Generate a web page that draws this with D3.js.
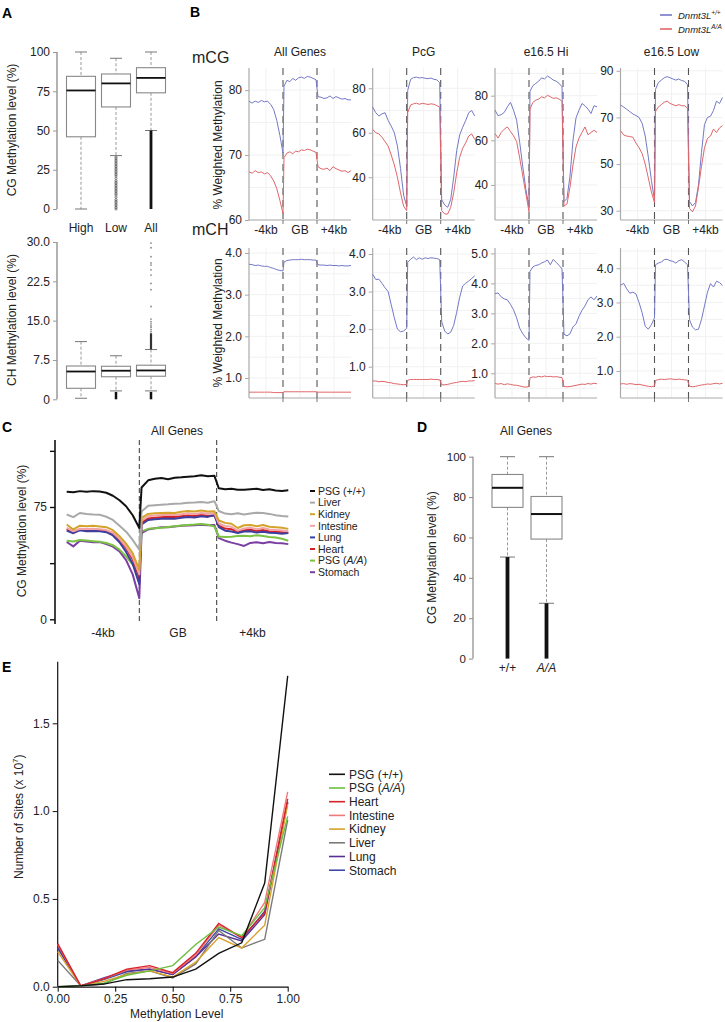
<!DOCTYPE html>
<html><head><meta charset="utf-8">
<script src="https://cdn.jsdelivr.net/npm/d3@7"></script>
<style>body{margin:0;background:#fff}svg{display:block}</style>
</head><body><svg id="fig" width="725" height="1022"></svg>
<script>
// ================= DATA =================
// Panel A
const catsA = ["High", "Low", "All"];
const cgBoxA = [
  {lo: 0, q1: 46, med: 75.5, q3: 84.5, hi: 100},
  {lo: 34, q1: 65, med: 80, q3: 86, hi: 96},
  {lo: 50, q1: 74, med: 83.5, q3: 90, hi: 100}
];
const cgDotsLowA = [0,1,2,3,4,5,6,7.5,9,10,11,12,13,14,15,16,17,18,19.5,21,22,23,24,25,26,27,28,29,30,31,32,33];
const cgBandAllA = [0, 50];
const chBoxA = [
  {lo: 0.2, q1: 2.1, med: 5.3, q3: 6.35, hi: 11},
  {lo: 1.6, q1: 4.3, med: 5.45, q3: 6.3, hi: 8.3},
  {lo: 1.6, q1: 4.4, med: 5.5, q3: 6.5, hi: 9.5}
];
const chBandsLowA = [null, [0, 1.4], [0, 1.4]];
const chBandHighAllA = [9.5, 12.6];
const chDotsAllA = [12.9,13.3,13.7,14.0,14.4,14.8,15.3,17.7,20.9,22.1,23.7,24.7,25.6,26.0,27.2,28.9,29.8];
const ticksA1 = [0, 25, 50, 75, 100];
const ticksA2 = [0, 7.5, 15, 22.5, 30];

// Panel B
const segLabels = ["-4kb", "GB", "+4kb"];
const bTitles = ["All Genes", "PcG", "e16.5 Hi", "e16.5 Low"];
const mCG_All_wt = [78.3,78.0,78.3,78.1,78.4,78.2,78.3,77.8,77.0,75.3,73.0,70.3, 80.6,81.5,81.3,81.8,81.5,81.9,82.0,81.8,82.1,82.0,81.8,81.6, 79.0,78.9,78.7,78.8,79.1,78.7,79.0,78.8,78.6,78.7,78.5,78.5];
const mCG_All_aa = [67.4,67.2,67.6,67.3,67.4,67.1,67.3,66.8,66.0,64.8,63.0,61.0, 69.6,70.3,70.5,70.2,70.6,70.5,70.8,70.7,70.9,70.8,70.6,70.4, 68.2,67.9,67.8,68.0,67.6,68.2,67.9,67.7,67.5,67.6,67.3,67.6];
const mCG_PcG_wt = [71.5,69.0,67.5,68.5,69.0,65.5,63.0,60.0,54.0,44.0,32.0,27.0, 79.0,84.0,84.8,85.0,84.6,84.8,84.5,84.3,84.6,84.0,83.8,82.5, 30.0,27.5,26.5,30.0,40.0,52.0,59.0,62.5,65.5,69.0,70.0,67.5];
const mCG_PcG_aa = [61.5,60.0,59.5,58.0,56.0,54.0,50.0,45.5,40.0,33.0,27.0,25.0, 69.0,72.5,73.0,73.3,72.8,73.2,73.0,72.7,73.0,72.8,72.2,71.5, 25.0,23.5,23.5,26.5,33.0,42.0,49.0,53.0,55.5,58.5,59.5,57.0];
const mCG_Hi_wt = [73.5,71.0,71.5,72.5,75.0,77.0,73.5,69.0,59.0,48.0,38.0,30.0, 82.0,84.5,85.5,86.5,88.0,87.5,88.8,88.0,87.0,86.5,85.5,84.0, 32.5,34.0,44.0,60.0,70.0,73.5,76.5,75.5,74.0,72.0,75.5,75.0];
const mCG_Hi_aa = [63.0,61.0,63.5,65.0,66.0,64.0,62.0,59.5,52.0,44.0,36.0,28.0, 74.0,77.0,78.0,78.5,79.5,79.0,80.2,79.5,78.8,79.0,78.5,77.5, 30.5,31.5,39.0,49.0,57.0,61.0,63.5,66.0,62.5,63.5,64.5,63.5];
const mCG_Low_wt = [75.3,74.5,73.5,72.5,71.5,70.8,70.0,67.5,62.0,53.0,43.0,34.5, 82.0,85.0,86.0,87.0,87.5,87.0,86.5,86.0,86.5,85.8,85.5,84.0, 34.0,32.0,33.5,41.0,55.0,67.0,70.0,70.5,73.0,77.0,76.0,78.5];
const mCG_Low_aa = [64.3,62.5,62.0,61.8,61.5,59.0,57.0,54.5,50.0,44.0,38.0,33.5, 72.5,74.5,75.5,76.5,77.0,76.0,75.5,75.0,75.5,75.0,75.0,74.0, 31.0,29.5,32.0,40.0,49.0,57.0,61.0,62.0,65.0,63.5,65.5,66.5];
const mCH_All_wt = [3.73,3.72,3.70,3.71,3.69,3.68,3.68,3.65,3.63,3.60,3.58,3.57, 3.78,3.82,3.83,3.84,3.84,3.84,3.85,3.84,3.84,3.84,3.83,3.83, 3.72,3.71,3.71,3.70,3.71,3.70,3.70,3.69,3.70,3.69,3.69,3.70];
const mCH_All_aa = [0.66,0.66,0.66,0.66,0.66,0.66,0.66,0.66,0.65,0.65,0.65,0.65, 0.67,0.67,0.67,0.67,0.67,0.67,0.67,0.67,0.67,0.67,0.67,0.67, 0.66,0.66,0.66,0.66,0.66,0.66,0.66,0.66,0.66,0.66,0.66,0.66];
const mCH_PcG_wt = [3.46,3.32,3.33,3.22,3.10,3.00,2.65,2.30,2.00,1.93,1.95,2.02, 3.78,3.86,3.92,3.85,3.90,3.86,3.90,3.88,3.90,3.89,3.88,3.85, 2.20,1.95,1.87,1.92,2.10,2.45,2.85,3.15,3.22,3.28,3.35,3.42];
const mCH_PcG_aa = [0.62,0.62,0.60,0.61,0.60,0.58,0.57,0.55,0.54,0.53,0.52,0.53, 0.64,0.66,0.66,0.66,0.66,0.66,0.66,0.66,0.67,0.66,0.66,0.65, 0.52,0.52,0.53,0.55,0.57,0.58,0.60,0.61,0.60,0.62,0.62,0.63];
const mCH_Hi_wt = [3.66,3.68,3.55,3.48,3.45,3.30,3.12,2.85,2.50,2.32,2.18,2.10, 4.40,4.55,4.60,4.62,4.68,4.72,4.78,4.62,4.80,4.70,4.60,4.48, 2.30,2.25,2.32,2.55,2.65,2.90,3.10,3.25,3.45,3.55,3.45,3.58];
const mCH_Hi_aa = [0.66,0.64,0.66,0.62,0.65,0.63,0.61,0.60,0.58,0.55,0.54,0.56, 0.85,0.88,0.87,0.90,0.88,0.91,0.89,0.90,0.88,0.89,0.87,0.86, 0.56,0.55,0.56,0.58,0.60,0.62,0.64,0.63,0.66,0.64,0.67,0.65];
const mCH_Low_wt = [3.50,3.56,3.40,3.27,3.30,3.25,3.00,2.70,2.30,2.22,2.35,2.55, 4.10,4.15,4.18,4.25,4.26,4.22,4.20,4.15,4.22,4.25,4.18,4.10, 2.50,2.28,2.20,2.22,2.50,2.90,3.30,3.55,3.45,3.62,3.58,3.50];
const mCH_Low_aa = [0.62,0.63,0.61,0.63,0.62,0.60,0.61,0.59,0.57,0.55,0.54,0.56, 0.72,0.75,0.76,0.75,0.76,0.77,0.76,0.75,0.76,0.75,0.74,0.73, 0.55,0.54,0.55,0.57,0.59,0.60,0.62,0.61,0.63,0.64,0.62,0.64];
const ticksCG = [[60,70,80],[40,60,80],[40,60,80],[30,50,70,90]];
const ticksCH = [[1,2,3,4],[1,2,3,4],[1,2,3,4,5],[1,2,3,4]];

// Panel C
const cNames = ["PSG (+/+)", "Liver", "Kidney", "Intestine", "Lung", "Heart", "PSG (A/A)", "Stomach"];
const cPSGwt = [85.2,84.8,85.6,85.2,85.6,85.3,84.5,82.5,79.5,75.5,69.5,61.0, 88.0,92.8,93.8,94.3,93.6,94.5,94.8,95.2,95.6,96.2,95.5,95.8, 87.5,86.8,87.2,86.5,86.6,86.9,87.2,86.4,86.8,86.0,85.7,86.2];
const cLiver = [70.0,68.2,71.0,70.3,70.0,69.8,68.5,66.4,62.5,58.5,53.0,46.5, 72.0,75.8,76.2,76.5,76.8,77.2,77.4,77.8,78.0,78.3,77.8,78.9, 72.3,70.6,70.2,70.8,70.0,70.6,71.2,71.0,70.4,69.5,69.0,68.6];
const cKidney = [63.3,60.0,62.5,62.2,62.4,62.0,61.5,59.5,55.5,50.5,44.0,33.0, 67.7,70.4,70.8,71.0,71.2,71.0,71.8,72.3,72.0,72.6,72.0,72.2, 66.0,64.4,63.8,61.0,62.8,63.0,62.2,63.0,61.8,61.5,61.2,60.4];
const cIntestine = [61.0,58.8,60.5,60.3,60.5,60.2,59.6,57.8,53.8,48.5,41.5,30.0, 66.0,68.8,69.3,69.6,69.8,69.6,70.2,70.8,70.4,71.0,70.6,70.8, 64.0,62.4,61.8,59.2,60.6,61.2,60.2,61.0,60.0,59.6,59.3,58.8];
const cLung = [59.2,57.5,59.5,58.8,59.0,58.8,58.2,56.0,51.5,45.0,37.0,23.5, 63.3,66.3,66.8,67.2,67.4,67.2,67.8,68.3,68.0,68.8,68.4,69.6, 61.5,59.2,58.6,57.6,58.6,58.8,57.9,58.4,57.8,57.6,57.2,57.6];
const cHeart = [60.2,57.8,59.8,59.5,59.7,59.4,58.8,57.0,53.0,47.5,40.0,27.5, 64.5,67.4,67.8,68.2,68.5,68.3,68.8,69.3,69.0,69.6,69.2,69.4, 62.5,60.6,60.2,58.5,59.4,59.8,59.0,59.6,58.7,58.5,58.2,57.8];
const cPSGaa = [52.5,52.0,53.0,52.6,52.2,51.8,51.0,49.5,46.5,42.0,36.5,30.0, 58.7,60.4,60.8,61.2,61.6,62.2,62.6,63.0,63.3,63.7,63.2,62.0, 55.3,55.0,55.2,55.6,55.8,55.4,56.2,55.6,55.0,54.6,53.8,52.5];
const cStomach = [51.6,48.7,52.5,52.0,51.5,51.6,50.2,48.5,45.4,39.5,30.0,14.1, 57.6,60.0,60.8,61.5,61.4,62.0,62.4,62.6,62.8,63.2,62.8,62.9, 54.2,52.5,51.2,50.2,49.0,51.0,51.5,50.8,51.6,51.0,50.8,50.2];
const cTicks = [0, 37.5, 75, 112.5];

// Panel D
const dCats = ["+/+", "A/A"];
const dBox = [
  {lo: 50.3, q1: 74.9, med: 84.6, q3: 91.2, hi: 100},
  {lo: 27.4, q1: 59.2, med: 71.6, q3: 80.3, hi: 100}
];
const dBands = [[0, 50.3], [0, 27.4]];
const dTicks = [0, 20, 40, 60, 80, 100];

// Panel E
const eLevels = [0, 0.1, 0.2, 0.3, 0.4, 0.5, 0.6, 0.7, 0.8, 0.9, 1.0];
const eNames = ["PSG (+/+)", "PSG (A/A)", "Heart", "Intestine", "Kidney", "Liver", "Lung", "Stomach"];
const ePSGwt    = [0.0, 0.005, 0.015, 0.04, 0.045, 0.055, 0.10, 0.19, 0.25, 0.59, 1.77];
const ePSGaa    = [0.0, 0.005, 0.02, 0.065, 0.09, 0.12, 0.24, 0.34, 0.29, 0.45, 0.97];
const eHeart    = [0.245, 0.005, 0.045, 0.10, 0.12, 0.08, 0.19, 0.36, 0.28, 0.42, 1.07];
const eIntestine= [0.24, 0.005, 0.045, 0.095, 0.11, 0.075, 0.18, 0.35, 0.28, 0.48, 1.11];
const eKidney   = [0.20, 0.005, 0.03, 0.07, 0.09, 0.055, 0.14, 0.28, 0.22, 0.35, 1.04];
const eLiver    = [0.15, 0.005, 0.015, 0.075, 0.09, 0.05, 0.13, 0.32, 0.22, 0.27, 0.95];
const eLung     = [0.23, 0.005, 0.05, 0.09, 0.10, 0.07, 0.17, 0.30, 0.26, 0.41, 1.05];
const eStomach  = [0.22, 0.005, 0.04, 0.085, 0.10, 0.07, 0.17, 0.33, 0.27, 0.43, 1.05];
const eYTicks = [0, 0.5, 1.0, 1.5];
const eXTicks = [0, 0.25, 0.5, 0.75, 1.0];

// ================= DRAWING =================
const FONT = '"Liberation Sans", Arial, Helvetica, sans-serif';
const svg = d3.select("#fig").attr("font-family", FONT);
const TXT = "#222";

function text(g, x, y, s, o = {}) {
  const t = g.append("text").attr("x", x).attr("y", y).text(s)
    .attr("font-size", o.size || 12).attr("fill", o.fill || TXT)
    .attr("text-anchor", o.anchor || "start");
  if (o.weight) t.attr("font-weight", o.weight);
  if (o.style) t.attr("font-style", o.style);
  if (o.dy) t.attr("dy", o.dy);
  return t;
}
function vtext(g, x, y, s, o = {}) {
  return g.append("text").attr("transform", `translate(${x},${y}) rotate(-90)`)
    .attr("text-anchor", "middle").attr("font-size", o.size || 12).attr("fill", TXT).text(s);
}
function yAxis(g, x, scale, ticks, fmt, o) {
  const ax = d3.axisLeft(scale).tickValues(ticks).tickSize(o.len || 4).tickSizeOuter(0)
    .tickPadding(o.pad || 3).tickFormat(fmt);
  const a = g.append("g").attr("transform", `translate(${x},0)`).call(ax);
  a.attr("font-family", FONT).attr("font-size", o.size || 12);
  a.select(".domain").remove();
  a.selectAll(".tick line").attr("stroke", o.color).attr("stroke-width", o.tw || 1);
  a.selectAll(".tick text").attr("fill", TXT);
  g.append("line").attr("x1", x).attr("x2", x).attr("y1", o.y0).attr("y2", o.y1)
    .attr("stroke", o.color).attr("stroke-width", o.sw || 1);
  return a;
}
// Panel letters
[["A", 2, 18], ["B", 190, 17], ["C", 2, 432], ["D", 417, 432], ["E", 2, 672]].forEach(([s, x, y]) =>
  text(svg, x, y, s, {size: 14, weight: "bold", fill: "#000"}));

// ---------- box plot helper ----------
function boxPlot(g, y, cx, w, s, o) {
  const cw = o.cap;
  g.append("line").attr("x1", cx).attr("x2", cx).attr("y1", y(s.hi)).attr("y2", y(s.q3))
    .attr("stroke", "#999").attr("stroke-dasharray", "3,2");
  g.append("line").attr("x1", cx).attr("x2", cx).attr("y1", y(s.q1)).attr("y2", y(s.lo))
    .attr("stroke", "#999").attr("stroke-dasharray", "3,2");
  [s.hi, s.lo].forEach(v => g.append("line").attr("x1", cx - cw / 2).attr("x2", cx + cw / 2)
    .attr("y1", y(v)).attr("y2", y(v)).attr("stroke", "#777"));
  g.append("rect").attr("x", cx - w / 2).attr("y", y(s.q3)).attr("width", w)
    .attr("height", y(s.q1) - y(s.q3)).attr("fill", "#fff").attr("stroke", "#888").attr("stroke-width", 1.1);
  g.append("line").attr("x1", cx - w / 2).attr("x2", cx + w / 2).attr("y1", y(s.med)).attr("y2", y(s.med))
    .attr("stroke", "#111").attr("stroke-width", o.mw || 1.8);
}
function band(g, y, cx, r, w, col) {
  g.append("line").attr("x1", cx).attr("x2", cx).attr("y1", y(r[0])).attr("y2", y(r[1]))
    .attr("stroke", col || "#111").attr("stroke-width", w);
}

// ---------- Panel A ----------
const gA = svg.append("g");
const xA = d3.scalePoint().domain(catsA).range([81, 151]);
const yA1 = d3.scaleLinear().domain([0, 100]).range([209, 52]);
const yA2 = d3.scaleLinear().domain([0, 30]).range([399.3, 242]);
yAxis(gA, 57, yA1, ticksA1, d3.format("d"), {color: "#999", y0: 52, y1: 209, sw: 1.5});
yAxis(gA, 57, yA2, ticksA2, d => d === 0 ? "0" : d.toFixed(1), {color: "#999", y0: 242, y1: 399.3, sw: 1.5});
catsA.forEach((c, i) => {
  boxPlot(gA, yA1, xA(c), 29, cgBoxA[i], {cap: 12});
  boxPlot(gA, yA2, xA(c), 29, chBoxA[i], {cap: 12});
  text(gA, xA(c), 232, c, {anchor: "middle"});
  if (chBandsLowA[i]) band(gA, yA2, xA(c), chBandsLowA[i], 2.5);
});
gA.selectAll(".dotLow").data(cgDotsLowA).enter().append("circle")
  .attr("cx", xA("Low")).attr("cy", d => yA1(d)).attr("r", 1.1)
  .attr("fill", "none").attr("stroke", "#555").attr("stroke-width", 0.7);
band(gA, yA1, xA("All"), cgBandAllA, 2.8);
band(gA, yA2, xA("All"), chBandHighAllA, 2.2, "#333");
gA.selectAll(".dotAll").data(chDotsAllA).enter().append("circle")
  .attr("cx", xA("All")).attr("cy", d => yA2(d)).attr("r", 0.9)
  .attr("fill", "#888").attr("stroke", "none");
vtext(gA, 15.5, 130, "CG Methylation level (%)");
vtext(gA, 15.5, 320, "CH Methylation level (%)");

// ---------- Panel B ----------
const gB = svg.append("g");
const BLUE = "#7479c6", RED = "#e0666a";
const bX0 = [249, 372.7, 495, 620.5];
const bW = 102;
function binPos(i) {
  const s = Math.floor(i / 12), j = i % 12;
  if (s === 0) return j * 12 / 11;
  if (s === 1) return 12.35 + j * 11.3 / 11;
  return 24.35 + j * 11.65 / 11;
}
function metaPanel(g, x0, yTop, yBot, dom, ticks, fmt, wt, aa, xlabels) {
  const xs = d3.scaleLinear().domain([0, 12, 24, 36]).range([x0, x0 + 34, x0 + 68, x0 + bW]);
  const ys = d3.scaleLinear().domain(dom).range([yBot, yTop]);
  // faint grid
  [6, 18, 30].forEach(v => g.append("line").attr("x1", xs(v)).attr("x2", xs(v))
    .attr("y1", yTop).attr("y2", yBot).attr("stroke", "#f1f1f1"));
  const half = (ticks[1] - ticks[0]) / 2;
  const gv = [];
  for (let v = ticks[0] - half; v <= dom[1]; v += half) if (v >= dom[0]) gv.push(v);
  gv.forEach(v => g.append("line").attr("x1", x0).attr("x2", x0 + bW).attr("y1", ys(v)).attr("y2", ys(v))
    .attr("stroke", "#f1f1f1"));
  yAxis(g, x0, ys, ticks, fmt, {color: "#aaa", y0: yTop, y1: yBot, sw: 1.2});
  g.append("line").attr("x1", x0).attr("x2", x0 + bW).attr("y1", yBot).attr("y2", yBot)
    .attr("stroke", "#aaa").attr("stroke-width", 1.2);
  [12, 24].forEach(v => {
    g.append("line").attr("x1", xs(v)).attr("x2", xs(v)).attr("y1", yBot).attr("y2", yBot + 4)
      .attr("stroke", "#777");
    g.append("line").attr("x1", xs(v)).attr("x2", xs(v)).attr("y1", yTop).attr("y2", yBot)
      .attr("stroke", "#555").attr("stroke-width", 1.1).attr("stroke-dasharray", "7,5");
  });
  const line = d3.line().x((d, i) => xs(binPos(i))).y(d => ys(d));
  g.append("path").attr("d", line(wt)).attr("fill", "none").attr("stroke", BLUE).attr("stroke-width", 1);
  g.append("path").attr("d", line(aa)).attr("fill", "none").attr("stroke", RED).attr("stroke-width", 1);
  if (xlabels) segLabels.forEach((s, k) => text(g, xs(6 + 12 * k), 234, s, {anchor: "middle"}));
}
const cgDomains = [[60, 83.4], [20.8, 89.1], [24.3, 92.4], [26.0, 91.2]];
const chDomains = [[0.52, 4.12], [0.167, 4.16], [0.177, 5.18], [0.21, 4.59]];
const cgWT = [mCG_All_wt, mCG_PcG_wt, mCG_Hi_wt, mCG_Low_wt];
const cgAA = [mCG_All_aa, mCG_PcG_aa, mCG_Hi_aa, mCG_Low_aa];
const chWT = [mCH_All_wt, mCH_PcG_wt, mCH_Hi_wt, mCH_Low_wt];
const chAA = [mCH_All_aa, mCH_PcG_aa, mCH_Hi_aa, mCH_Low_aa];
bX0.forEach((x0, k) => {
  metaPanel(gB, x0, 68, 220, cgDomains[k], ticksCG[k], d3.format("d"), cgWT[k], cgAA[k], true);
  metaPanel(gB, x0, 248, 398, chDomains[k], ticksCH[k], d3.format(".1f"), chWT[k], chAA[k], false);
  text(gB, x0 + bW / 2, 56, bTitles[k], {anchor: "middle"});
});
text(gB, 192, 63, "mCG", {size: 16});
text(gB, 192, 235, "mCH", {size: 16});
vtext(gB, 222, 145, "% Weighted Methylation");
vtext(gB, 222, 323, "% Weighted Methylation");
// legend B
[[BLUE, "+/+", 15], [RED, "A/A", 29]].forEach(([c, sup, y]) => {
  gB.append("line").attr("x1", 660).attr("x2", 672).attr("y1", y).attr("y2", y).attr("stroke", c).attr("stroke-width", 1.6);
  const t = gB.append("text").attr("x", 678).attr("y", y + 3.5).attr("font-size", 9.5).attr("fill", TXT).attr("font-style", "italic");
  t.append("tspan").text("Dnmt3L");
  t.append("tspan").attr("dy", -4).attr("font-size", 6.5).text(sup);
});

// ---------- Panel C ----------
const gC = svg.append("g");
const cColors = ["#111111", "#a9a9a9", "#d4a32c", "#f2a3a6", "#3b3f9f", "#d61f26", "#7cc242", "#7b3fa3"];
const cSeries = [cPSGwt, cLiver, cKidney, cIntestine, cLung, cHeart, cPSGaa, cStomach];
const xC = d3.scaleLinear().domain([0, 12, 24, 36]).range([66.7, 139.3, 216.7, 288.3]);
const yC = d3.scaleLinear().domain([0, 75]).range([619.3, 507]);
yAxis(gC, 55, yC, cTicks, d => (d === 0 || d === 75) ? d : "", {color: "#111", y0: 440, y1: 624, sw: 1.6, len: 5, tw: 1.4});
[12, 24].forEach(v => gC.append("line").attr("x1", xC(v)).attr("x2", xC(v)).attr("y1", 440).attr("y2", 624)
  .attr("stroke", "#333").attr("stroke-width", 1).attr("stroke-dasharray", "5,3"));
const lineC = d3.line().x((d, i) => xC(binPos(i))).y(d => yC(d));
for (let k = cSeries.length - 1; k >= 0; k--) {
  gC.append("path").attr("d", lineC(cSeries[k])).attr("fill", "none").attr("stroke", cColors[k])
    .attr("stroke-width", 2).attr("stroke-linejoin", "round");
}
segLabels.forEach((s, k) => text(gC, xC(6 + 12 * k), 637, s, {anchor: "middle"}));
text(gC, 177, 435, "All Genes", {anchor: "middle"});
vtext(gC, 26, 531, "CG Methylation level (%)");
cNames.forEach((n, i) => {
  const y = 491 + 11.6 * i;
  gC.append("line").attr("x1", 310).attr("x2", 315).attr("y1", y).attr("y2", y).attr("stroke", cColors[i]).attr("stroke-width", 2);
  const t = gC.append("text").attr("x", 318).attr("y", y).attr("dy", "0.36em").attr("font-size", 10.5).attr("fill", TXT);
  if (n === "PSG (A/A)") { t.append("tspan").text("PSG ("); t.append("tspan").attr("font-style", "italic").text("A/A"); t.append("tspan").text(")"); }
  else t.text(n);
});

// ---------- Panel D ----------
const gD = svg.append("g");
const xD = d3.scalePoint().domain(dCats).range([507.5, 546.5]);
const yD = d3.scaleLinear().domain([0, 100]).range([658.6, 456.7]);
yAxis(gD, 473, yD, dTicks, d3.format("d"), {color: "#888", y0: 456.7, y1: 658.6, sw: 1.2, size: 11.5});
dCats.forEach((c, i) => {
  boxPlot(gD, yD, xD(c), 31, dBox[i], {cap: 15, mw: 2});
  band(gD, yD, xD(c), dBands[i], 3.8);
  text(gD, xD(c), 672, c, {anchor: "middle", style: i === 1 ? "italic" : null});
});
text(gD, 526, 435, "All Genes", {anchor: "middle"});
vtext(gD, 436, 557.6, "CG Methylation level (%)");

// ---------- Panel E ----------
const gE = svg.append("g");
const eSeries = [ePSGwt, ePSGaa, eHeart, eIntestine, eKidney, eLiver, eLung, eStomach];
const eColors = ["#111111", "#6cbf3f", "#d8232a", "#f07a78", "#d9a12b", "#7a7a7a", "#5a2f95", "#3d4aa6"];
const xE = d3.scaleLinear().domain([0, 1]).range([57.7, 287.7]);
const yE = d3.scaleLinear().domain([0, 1.5]).range([986.7, 723.3]);
yAxis(gE, 57.7, yE, eYTicks, d3.format(".1f"), {color: "#111", y0: 661.7, y1: 986.7, sw: 1.2, len: 5});
const axB = gE.append("g").attr("transform", "translate(0,986.7)")
  .call(d3.axisBottom(xE).tickValues(eXTicks).tickSize(5).tickSizeOuter(0).tickFormat(d3.format(".2f")));
axB.attr("font-family", FONT).attr("font-size", 12);
axB.select(".domain").attr("stroke", "#111").attr("stroke-width", 1.2);
axB.selectAll(".tick text").attr("fill", TXT);
const lineE = d3.line().x((d, i) => xE(eLevels[i])).y(d => yE(d));
for (let k = eSeries.length - 1; k >= 0; k--) {
  gE.append("path").attr("d", lineE(eSeries[k])).attr("fill", "none").attr("stroke", eColors[k]).attr("stroke-width", 1.4);
}
text(gE, 176.7, 1018, "Methylation Level", {anchor: "middle"});
const ey = gE.append("text").attr("transform", "translate(23,816.7) rotate(-90)").attr("text-anchor", "middle")
  .attr("font-size", 12).attr("fill", TXT);
ey.append("tspan").text("Number of Sites (x 10");
ey.append("tspan").attr("dy", -5).attr("font-size", 8).text("7");
ey.append("tspan").attr("dy", 5).text(")");
eNames.forEach((n, i) => {
  const y = 774.3 + 13.7 * i;
  gE.append("line").attr("x1", 329).attr("x2", 345).attr("y1", y).attr("y2", y).attr("stroke", eColors[i]).attr("stroke-width", 1.6);
  const t = gE.append("text").attr("x", 349).attr("y", y).attr("dy", "0.36em").attr("font-size", 12).attr("fill", TXT);
  if (n === "PSG (A/A)") { t.append("tspan").text("PSG ("); t.append("tspan").attr("font-style", "italic").text("A/A"); t.append("tspan").text(")"); }
  else t.text(n);
});
</script>
</body></html>
